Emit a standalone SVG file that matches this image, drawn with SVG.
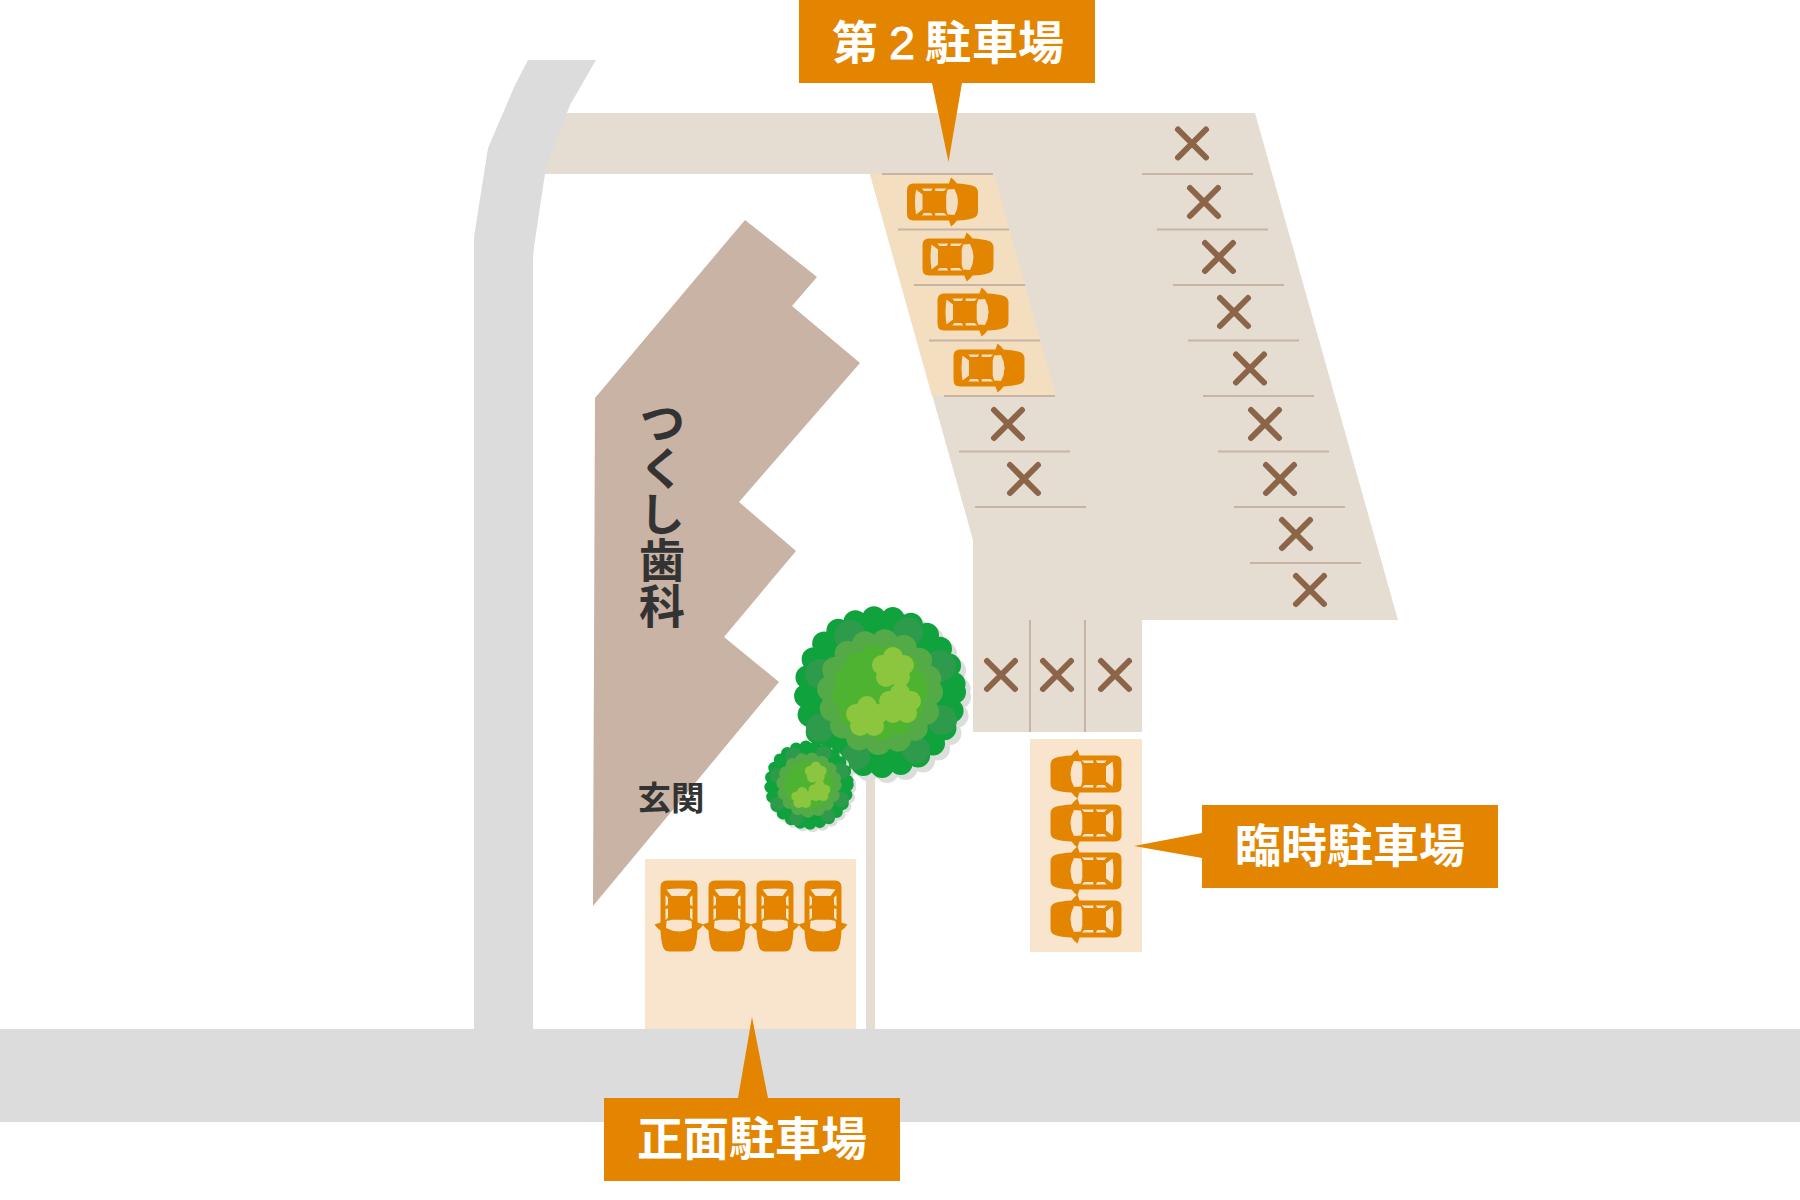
<svg xmlns="http://www.w3.org/2000/svg" width="1800" height="1200" viewBox="0 0 1800 1200">
<style>
.road{fill:#dcdcdc}.lot{fill:#e5ddd1}.p1{fill:#f9e5ce}.p2{fill:#f3debf}.bld{fill:#c9b3a5}
.ln{stroke:#c7b4a5;stroke-width:2;fill:none}
.x{stroke:#8c6549;stroke-width:6;stroke-linecap:round;fill:none}
.o{fill:#e38500}
.lbl{font-family:"Noto Sans CJK JP","Liberation Sans",sans-serif;font-weight:700;font-size:46px;fill:#fff;text-anchor:middle}
.dk{font-family:"Noto Sans CJK JP","Liberation Sans",sans-serif;font-weight:700;fill:#333}
</style>
<defs>
<symbol id="car" viewBox="-36 -25 72 50" width="72" height="50" overflow="visible">
<path class="o" d="M-29-18.500H6.500L8.500-24.500Q12-22 14.500-18.500Q25-18 31-16Q35.500-14.500 35.500-9V9Q35.500 14.500 31 16Q25 18 14.500 18.500Q12 22 8.500 24.500L6.500 18.500H-29Q-35.500 18.500-35.500 12V-12Q-35.500-18.500-29-18.500Z"/>
<path d="M-26.500-12.500L-20-7.500V7.500L-26.500 12.500Q-28.500 0-26.500-12.500ZM5-12.500L12-13Q19 0 12 13L5 12.500L3.700 7V-7ZM-20.700-13.500H-9.700L-11.500-11H-18.500ZM-7.300-13.500H4.300L1.500-11H-7.300ZM-20.700 13.500H-9.700L-11.500 11H-18.500ZM-7.300 13.500H4.300L1.500 11H-7.300Z"/>
</symbol>
<g id="x"><path class="x" d="M-14-14L14 14M14-14L-14 14"/></g>
<g id="flower"><circle r="10" cy="-11"/><circle r="10" cx="11" cy="-3"/><circle r="10" cx="7" cy="9"/><circle r="10" cx="-7" cy="9"/><circle r="10" cx="-11" cy="-3"/><circle r="10"/></g>
<g id="tree">
<circle cx="5" cy="5" r="74" fill="#dcdedc" stroke="#dcdedc" stroke-width="24" stroke-dasharray="0 19" stroke-linecap="round"/>
<circle r="74" fill="#10a23c" stroke="#10a23c" stroke-width="24" stroke-dasharray="0 19" stroke-linecap="round"/>
<g fill="#2e9a4c"><circle cx="-60" cy="-18" r="15"/><circle cx="-30" cy="-56" r="16"/><circle cx="28" cy="-60" r="15"/><circle cx="60" cy="-26" r="16"/><circle cx="62" cy="28" r="15"/><circle cx="36" cy="58" r="14"/><circle cx="-24" cy="64" r="14"/><circle cx="-60" cy="36" r="14"/></g>
<circle r="50" fill="#55aa48" stroke="#55aa48" stroke-width="26" stroke-dasharray="0 20" stroke-linecap="round"/>
<circle r="36" fill="#4fb332" stroke="#4fb332" stroke-width="24" stroke-dasharray="0 18" stroke-linecap="round"/>
<g fill="#8cc63f">
<use href="#flower" x="13" y="-24"/><use href="#flower" x="20" y="12"/><use href="#flower" x="-13" y="25"/>
</g>
</g>
</defs>

<g id="second-lot">
<path class="lot" d="M560 113H1255L1398 620H1142V732H973V540L870 174H540Z"/>
<path class="p2" d="M870 174H994L1056 396H932Z"/>
</g>
<g id="roads">
<rect class="road" x="0" y="1029" width="1800" height="93"/>
<path class="road" d="M528 60H596L570 105L546 167L534 247L533 258V1030H474V237L488 148L515 85Z"/>
</g>
<g id="front-lot"><rect class="p1" x="645" y="859" width="211" height="170"/></g>
<g id="temp-lot"><rect class="p1" x="1030" y="739" width="112" height="213"/></g>
<g id="path-strip"><rect class="lot" x="866" y="770" width="9" height="259"/></g>

<g id="building">
<path class="bld" d="M745 220L817 277L792 306L860 363L739 502L796 551L724 637L779 682L593 906L595 398Z"/>
<text class="dk" x="662" y="399" font-size="46" style="writing-mode:vertical-rl" text-anchor="start">つくし歯科</text>
<text class="dk" x="671" y="810" font-size="33.500" text-anchor="middle">玄関</text>
</g>

<g id="lines">
<path class="ln" d="M882 174h111M898 229.500h111M914 285h111M929 340.500h111M944 396h111M959 451.500h111M975 507h111"/>
<path class="ln" d="M1142 174h111M1157 229.500h111M1173 285h111M1188 340.500h111M1203 396h111M1218 451.500h111M1234 507h111M1250 563h111"/>
<path class="ln" d="M1030 620V732M1085 620V732"/>
</g>
<g id="x-marks">
<use href="#x" x="1192" y="143.500"/><use href="#x" x="1204" y="202"/><use href="#x" x="1219" y="257"/><use href="#x" x="1234" y="312"/><use href="#x" x="1250" y="368.500"/><use href="#x" x="1265" y="424"/><use href="#x" x="1280" y="479"/><use href="#x" x="1296" y="534"/><use href="#x" x="1310" y="590"/>
<use href="#x" x="1008" y="424"/><use href="#x" x="1024" y="479"/>
<use href="#x" x="1001" y="675"/><use href="#x" x="1057" y="675"/><use href="#x" x="1115" y="675"/>
</g>
<g id="cars-second" fill="#f3debf">
<use href="#car" x="906.500" y="177"/><use href="#car" x="922" y="232"/><use href="#car" x="937" y="287"/><use href="#car" x="953" y="343"/>
</g>
<g id="cars-front" fill="#f9e5ce">
<use href="#car" transform="translate(679,916) rotate(90) translate(-36,-25)"/><use href="#car" transform="translate(727,916) rotate(90) translate(-36,-25)"/><use href="#car" transform="translate(775,916) rotate(90) translate(-36,-25)"/><use href="#car" transform="translate(823,916) rotate(90) translate(-36,-25)"/>
</g>
<g id="cars-temp" fill="#f9e5ce">
<use href="#car" transform="translate(1086,774) rotate(180) translate(-36,-25)"/><use href="#car" transform="translate(1086,823) rotate(180) translate(-36,-25)"/><use href="#car" transform="translate(1086,871) rotate(180) translate(-36,-25)"/><use href="#car" transform="translate(1086,919) rotate(180) translate(-36,-25)"/>
</g>
<g id="tree-large"><use href="#tree" x="880" y="692"/></g>
<g id="tree-small"><use href="#tree" transform="translate(809,785) scale(.52)"/></g>

<g id="label-second">
<path class="o" d="M799 0H1095V83H962L948.500 162L932 83H799Z"/>
<text class="lbl" style="text-anchor:start" x="832" y="59">第<tspan x="889" style="font-family:'Liberation Sans',sans-serif;font-weight:400;font-size:47px;stroke:#fff;stroke-width:.9px">2</tspan><tspan x="925 972 1018">駐車場</tspan></text>
</g>
<g id="label-temp">
<path class="o" d="M1202 805H1498V888H1202V858L1134 846L1202 833Z"/>
<text class="lbl" x="1350" y="862">臨時駐車場</text>
</g>
<g id="label-front">
<path class="o" d="M604 1098H738L752 1017L768 1098H900V1181H604Z"/>
<text class="lbl" x="752" y="1155">正面駐車場</text>
</g>
</svg>
